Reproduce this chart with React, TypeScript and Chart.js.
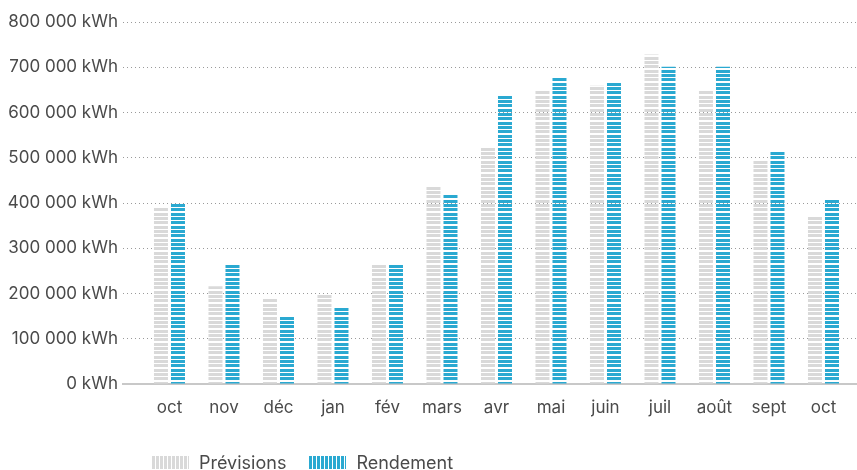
import React, { useEffect, useRef } from 'react';
import { Chart, registerables } from 'chart.js';

Chart.register(...registerables);

const months = ['oct', 'nov', 'déc', 'jan', 'fév', 'mars', 'avr', 'mai', 'juin', 'juil', 'août', 'sept', 'oct'];
const previsions = [389000, 216000, 188000, 199000, 264000, 438000, 523000, 648000, 659000, 728000, 648000, 496000, 371000];
const rendement = [398000, 263000, 149000, 169000, 264000, 418000, 639000, 676000, 668000, 701000, 701000, 513000, 410000];
const seriesNames = ['Prévisions', 'Rendement'];
const yMax = 800000;
const yStep = 100000;

const GRAY = '#d9d9d9';
const BLUE = '#2aa9d1';
const TEXT = '#4a4a4a';
const FONT = 'Inter, "Noto Sans", sans-serif';
const TICK_SIZE = 17;
const LEGEND_SIZE = 18;

function stripes(color: string) {
  const c = document.createElement('canvas');
  c.width = 1;
  c.height = 13;
  const g = c.getContext('2d')!;
  g.fillStyle = color;
  g.fillRect(0, 0, 1, 3);
  g.fillRect(0, 5, 1, 3);
  g.fillRect(0, 9, 1, 3);
  return g.createPattern(c, 'repeat')!;
}

function fmt(v: number) {
  return String(v).replace(/\B(?=(\d{3})+(?!\d))/g, ' ') + ' kWh';
}

export default function App() {
  const ref = useRef<HTMLCanvasElement | null>(null);

  useEffect(() => {
    if (!ref.current) return;
    const chart = new Chart(ref.current, {
      type: 'bar',
      data: {
        datasets: [
          {
            label: seriesNames[0],
            data: previsions.map((v, i) => ({ x: i, y: v })),
            backgroundColor: stripes(GRAY),
            borderWidth: 0,
            categoryPercentage: 0.624,
            barPercentage: 0.8235,
          },
          {
            label: seriesNames[1],
            data: rendement.map((v, i) => ({ x: i, y: v })),
            backgroundColor: stripes(BLUE),
            borderWidth: 0,
            categoryPercentage: 0.624,
            barPercentage: 0.8235,
          },
        ],
      } as any,
      options: {
        responsive: false,
        animation: false,
        layout: { padding: { top: 22, left: 0, right: 0, bottom: 0 } },
        plugins: { legend: { display: false }, tooltip: { enabled: false } },
        scales: {
          x: {
            type: 'linear',
            offset: false,
            min: -0.853,
            max: 12.615,
            grid: { display: false, drawTicks: false, offset: false },
            border: { display: true, color: '#c8c8c8', width: 2 },
            afterBuildTicks: (s: any) => {
              s.ticks = months.map((_, i) => ({ value: i }));
            },
            afterFit: (s: any) => {
              s.height = 86;
            },
            ticks: {
              autoSkip: false,
              maxRotation: 0,
              padding: 14,
              color: TEXT,
              font: { family: FONT, size: TICK_SIZE },
              callback: (v: any) => months[v] ?? '',
            },
          },
          y: {
            min: 0,
            max: yMax,
            afterFit: (s: any) => {
              s.width = 123;
            },
            grid: {
              drawTicks: false,
              color: (ctx: any) => (ctx.tick && ctx.tick.value === 0 ? 'rgba(0,0,0,0)' : '#9a9a9a'),
              lineWidth: 1,
            },
            border: { display: false, dash: [1, 3] },
            ticks: {
              stepSize: yStep,
              padding: 5,
              color: TEXT,
              font: { family: FONT, size: TICK_SIZE },
              callback: (v: any) => fmt(Number(v)),
            },
          },
        },
      } as any,
    });
    return () => chart.destroy();
  }, []);

  const swatch = (color: string): React.CSSProperties => ({
    width: 37,
    height: 13,
    background: `repeating-linear-gradient(to right, ${color} 0px, ${color} 3px, #fff 3px, #fff 4px)`,
    marginRight: 10,
  });

  return (
    <div style={{ position: 'fixed', left: 0, top: 0, width: 857, height: 470, background: '#fff' }}>
      <canvas ref={ref} width={857} height={470} style={{ position: 'absolute', left: 0, top: 0 }} />
      <div
        style={{
          position: 'absolute',
          left: 152,
          top: 451,
          height: 22,
          display: 'flex',
          alignItems: 'center',
          fontFamily: FONT,
          fontSize: LEGEND_SIZE,
          color: TEXT,
        }}
      >
        <div style={swatch(GRAY)} />
        <span style={{ marginRight: 23 }}>{seriesNames[0]}</span>
        <div style={swatch(BLUE)} />
        <span>{seriesNames[1]}</span>
      </div>
    </div>
  );
}
